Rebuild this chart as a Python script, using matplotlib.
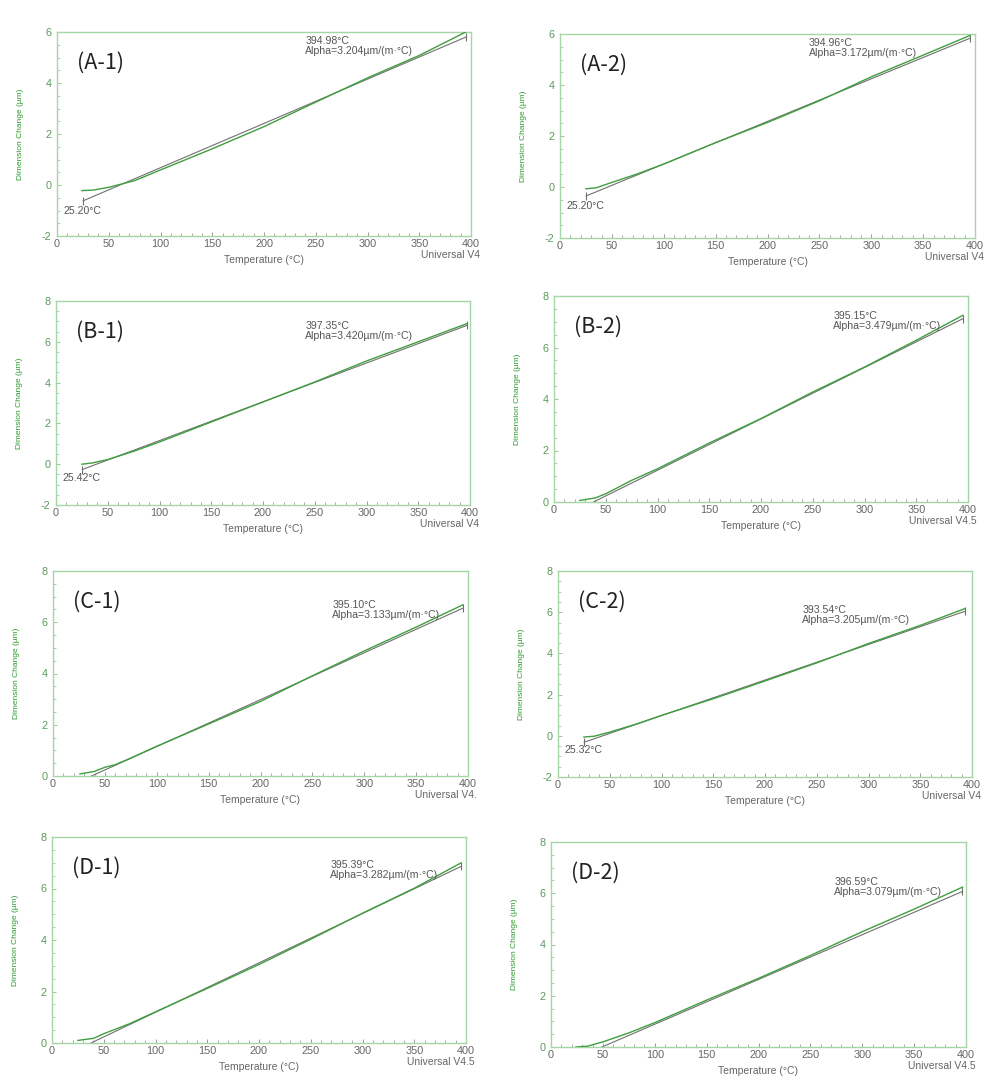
import matplotlib
matplotlib.use("Agg")
import matplotlib.pyplot as plt
from matplotlib.ticker import MultipleLocator

plt.rcParams["font.family"] = ["Liberation Sans", "DejaVu Sans"]
plt.rcParams["axes.unicode_minus"] = False

# ── data ─────────────────────────────────────────────────────────────────────
panel_names = ["(A-1)", "(A-2)", "(B-1)", "(B-2)", "(C-1)", "(C-2)", "(D-1)", "(D-2)"]
y_limits = [(-2, 6), (-2, 6), (-2, 8), (0, 8), (0, 8), (-2, 8), (0, 8), (0, 8)]

# measured dimension change (green curves)
temp_a1 = [24, 35, 50, 75, 100, 150, 200, 250, 300, 350, 395]
dim_a1 = [-0.22, -0.20, -0.09, 0.17, 0.59, 1.42, 2.29, 3.25, 4.20, 5.08, 6.00]
temp_a2 = [25, 35, 50, 75, 100, 150, 200, 250, 300, 350, 395]
dim_a2 = [-0.07, -0.03, 0.18, 0.52, 0.90, 1.74, 2.53, 3.38, 4.32, 5.17, 5.94]
temp_b1 = [25, 35, 50, 75, 100, 150, 200, 250, 300, 350, 397]
dim_b1 = [0.00, 0.06, 0.23, 0.63, 1.09, 2.07, 3.05, 4.03, 5.06, 6.00, 6.89]
temp_b2 = [25, 40, 50, 75, 100, 150, 200, 250, 300, 350, 395]
dim_b2 = [0.06, 0.16, 0.32, 0.84, 1.29, 2.29, 3.24, 4.27, 5.24, 6.28, 7.25]
temp_c1 = [26, 40, 50, 60, 75, 100, 150, 200, 250, 300, 350, 395]
dim_c1 = [0.08, 0.18, 0.34, 0.44, 0.70, 1.16, 2.03, 2.91, 3.91, 4.88, 5.81, 6.68]
temp_c2 = [25, 35, 50, 75, 100, 150, 200, 250, 300, 350, 393.5]
dim_c2 = [-0.06, -0.02, 0.18, 0.56, 0.99, 1.80, 2.66, 3.54, 4.48, 5.36, 6.18]
temp_d1 = [25, 40, 50, 75, 100, 150, 200, 250, 300, 350, 395]
dim_d1 = [0.10, 0.18, 0.36, 0.75, 1.21, 2.12, 3.05, 4.03, 5.04, 6.01, 6.99]
temp_d2 = [24, 35, 50, 75, 100, 150, 200, 250, 300, 350, 396.6]
dim_d2 = [0.00, 0.03, 0.20, 0.55, 0.95, 1.83, 2.68, 3.57, 4.50, 5.38, 6.24]

temps = [temp_a1, temp_a2, temp_b1, temp_b2, temp_c1, temp_c2, temp_d1, temp_d2]
dims = [dim_a1, dim_a2, dim_b1, dim_b2, dim_c1, dim_c2, dim_d1, dim_d2]

# linear fit segment (start temp, start value, end temp, end value)
fit_t0 = [25.20, 25.20, 25.42, 25.15, 25.10, 25.32, 25.20, 25.10]
fit_y0 = [-0.62, -0.35, -0.26, -0.26, -0.22, -0.31, -0.24, -0.42]
fit_t1 = [394.98, 394.96, 397.35, 395.15, 395.10, 393.54, 395.39, 396.59]
fit_y1 = [5.80, 5.83, 6.81, 7.12, 6.55, 6.05, 6.86, 6.07]

alphas = ["3.204", "3.172", "3.420", "3.479", "3.133", "3.205", "3.282", "3.079"]
start_labels = ["25.20°C", "25.20°C", "25.42°C", None, None, "25.32°C", None, None]
version_labels = ["Universal V4", "Universal V4", "Universal V4", "Universal V4.5",
                  "Universal V4.", "Universal V4", "Universal V4.5", "Universal V4.5"]

# ── layout (pixel boxes of each plot area: left, top, right, bottom) ────────
W, H = 1008, 1086
boxes = [(57, 32, 471, 236), (560, 34, 975, 238),
         (56, 301, 470, 505), (554, 296, 968, 502),
         (53, 571, 468, 776), (558, 571, 972, 777),
         (52, 837, 466, 1043), (551, 842, 966, 1047)]
end_label_xy = [(240, 5.85), (240, 5.85), (241, 7.0), (270, 7.4),
                (269, 6.85), (236, 6.35), (269, 7.1), (273, 6.65)]

SPINE = "#a6d6a6"
GREEN = "#3f9f3f"
FIT = "#707070"
TXT = "#555555"

fig = plt.figure(figsize=(W / 100, H / 100), dpi=100)

for i in range(8):
    l, t, r, b = boxes[i]
    ax = fig.add_axes([l / W, 1 - b / H, (r - l) / W, (b - t) / H])

    ax.plot(temps[i], dims[i], color=GREEN, lw=1.0, zorder=3)
    ax.plot([fit_t0[i], fit_t1[i]], [fit_y0[i], fit_y1[i]], color=FIT, lw=0.8,
            marker="|", ms=6, mew=0.8, zorder=2)

    ax.set_xlim(0, 400)
    ax.set_ylim(*y_limits[i])
    ax.xaxis.set_major_locator(MultipleLocator(50))
    ax.xaxis.set_minor_locator(MultipleLocator(10))
    ax.yaxis.set_major_locator(MultipleLocator(2))
    ax.yaxis.set_minor_locator(MultipleLocator(0.5))

    for s in ax.spines.values():
        s.set_color(SPINE)
        s.set_linewidth(1.0)
    ax.tick_params(axis="x", which="both", direction="in", colors="#8a8a8a",
                   labelcolor="#666666", labelsize=7.8, pad=2)
    ax.tick_params(axis="y", which="both", direction="in", colors="#8abf8a",
                   labelcolor="#5a9a5a", labelsize=7.8, pad=4)
    ax.tick_params(which="major", length=3, width=0.6)
    ax.tick_params(which="minor", length=2, width=0.5)

    ax.set_xlabel("Temperature (°C)", fontsize=7.5, color="#666666")
    ax.xaxis.set_label_coords(0.5, -0.093)
    ax.set_ylabel("Dimension Change (µm)", fontsize=6, color="#2e9a2e")
    ax.yaxis.set_label_coords(-0.08, 0.5)

    ax.text(0.048, 0.85, panel_names[i], transform=ax.transAxes, fontsize=15.5,
            va="center", ha="left", color="#222222",
            family=["Noto Sans CJK KR", "DejaVu Sans"])

    ex, ey = end_label_xy[i]
    ax.text(ex, ey, f"{fit_t1[i]:.2f}°C\nAlpha={alphas[i]}µm/(m·°C)", fontsize=7.6,
            color=TXT, va="top", ha="left", linespacing=1.0)
    if start_labels[i]:
        ax.text(fit_t0[i] - 19, fit_y0[i] - 0.4, start_labels[i], fontsize=7.6,
                color=TXT, va="center", ha="left")

    ax.text(1.022, -0.093, version_labels[i], transform=ax.transAxes, fontsize=7.5,
            color="#666666", va="center", ha="right")

fig.savefig("out.png", dpi=100, facecolor="white")
